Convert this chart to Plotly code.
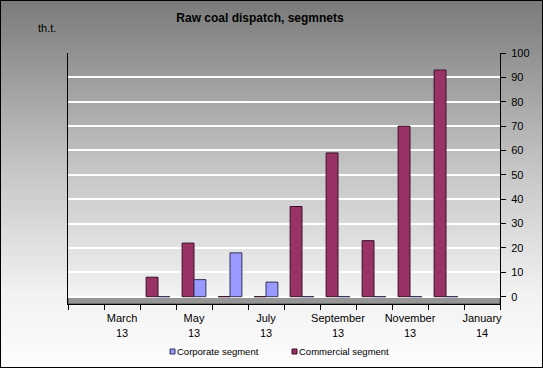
import base64
import plotly.graph_objects as go

# ---- data ----
months = ["Feb 13", "Mar 13", "Apr 13", "May 13", "Jun 13", "Jul 13",
          "Aug 13", "Sep 13", "Oct 13", "Nov 13", "Dec 13", "Jan 14"]
commercial = [None, None, 8, 22, 0, 0, 37, 59, 23, 70, 93, None]
corporate = [None, None, 0, 7, 18, 6, 0, 0, 0, 0, 0, None]
tick_labels = ["March<br>13", "May<br>13", "July<br>13",
               "September<br>13", "November<br>13", "January<br>14"]
tick_positions = [1, 3, 5, 7, 9, 11]
y_ticks = [0, 10, 20, 30, 40, 50, 60, 70, 80, 90, 100]
series_names = ["Corporate segment", "Commercial segment"]
series_colors = ["#9999ff", "#993366"]
series_edges = ["#33335a", "#3a1025"]

W, H = 543, 368
L, R, T, B = 68, 43, 53, 64
pw, ph = W - L - R, H - T - B


def px_x(p):
    return (p - L) / pw


def px_y(p):
    return 1 - (p - T) / ph


svg = f'''<svg xmlns="http://www.w3.org/2000/svg" width="{W}" height="{H}">
<defs><linearGradient id="g" x1="0" y1="0" x2="0" y2="1">
<stop offset="0" stop-color="#7a7a7a"/>
<stop offset="0.45" stop-color="#c4c4c4"/>
<stop offset="0.8" stop-color="#f2f2f2"/>
<stop offset="1" stop-color="#fdfdfd"/>
</linearGradient></defs>
<rect x="0" y="0" width="{W}" height="{H}" fill="url(#g)"/>
<rect x="0.5" y="0.5" width="{W-1}" height="{H-1}" fill="none" stroke="#000" stroke-width="1"/>
</svg>'''
src = "data:image/svg+xml;base64," + base64.b64encode(svg.encode()).decode()

x = list(range(len(months)))
fig = go.Figure()
fig.add_trace(go.Bar(x=x, y=commercial, name=series_names[1],
                     marker=dict(color=series_colors[1], line=dict(color=series_edges[1], width=1))))
fig.add_trace(go.Bar(x=x, y=corporate, name=series_names[0],
                     marker=dict(color=series_colors[0], line=dict(color=series_edges[0], width=1))))

font = "Arial, 'Liberation Sans', sans-serif"

shapes = [dict(type="rect", xref="paper", yref="y", x0=0, x1=1, y0=-3, y1=0,
               fillcolor="#959595", line=dict(color="#444", width=1), layer="below")]
annotations = [dict(text="th.t.", xref="paper", yref="paper", x=px_x(36),
                    y=px_y(28), xanchor="left", yanchor="middle",
                    showarrow=False, font=dict(size=11))]
# legend (small squares + text) as in the original
for name, col, edge, sx in zip(series_names, series_colors, series_edges, [170, 292]):
    shapes.append(dict(type="rect", xref="paper", yref="paper",
                       x0=px_x(sx), x1=px_x(sx + 5), y0=px_y(354), y1=px_y(349),
                       fillcolor=col, line=dict(color=edge, width=1)))
    annotations.append(dict(text=name, xref="paper", yref="paper", x=px_x(sx + 5),
                            y=px_y(351.5), xanchor="left", yanchor="middle",
                            showarrow=False, font=dict(size=9.5)))

fig.update_layout(
    width=W, height=H,
    margin=dict(l=L, r=R, t=T, b=B),
    paper_bgcolor="rgba(0,0,0,0)",
    plot_bgcolor="rgba(0,0,0,0)",
    barmode="group", bargap=0.34, bargroupgap=0.0,
    font=dict(family=font, size=11, color="#000"),
    title=dict(text="<b>Raw coal dispatch, segmnets</b>", x=260 / W, xanchor="center",
               y=1 - 18 / H, yanchor="middle", font=dict(size=12)),
    showlegend=False,
    xaxis=dict(range=[-0.5, 11.5], tickmode="array", tickvals=tick_positions,
               ticktext=tick_labels, ticks="", showgrid=False, zeroline=False,
               showline=True, linecolor="#000", linewidth=1, ticklabelstandoff=4,
               minor=dict(tickmode="array", tickvals=[i - 0.5 for i in range(13)],
                          ticks="outside", ticklen=5, tickcolor="#000", showgrid=False),
               tickfont=dict(size=11)),
    yaxis=dict(range=[-3, 100], side="right", tickmode="array", tickvals=y_ticks,
               ticks="outside", ticklen=5, tickcolor="#000", showline=True,
               linecolor="#000", linewidth=1, mirror=True, ticklabelstandoff=3,
               showgrid=True, gridcolor="#ffffff", gridwidth=1.5, zeroline=False,
               tickfont=dict(size=11)),
    images=[dict(source=src, xref="paper", yref="paper", x=-L / pw, y=1 + T / ph,
                 sizex=W / pw, sizey=H / ph, sizing="stretch", layer="below",
                 xanchor="left", yanchor="top")],
    shapes=shapes,
    annotations=annotations,
)
fig.write_html("out.html", config={"displayModeBar": False},
               post_script="document.body.style.margin='0px';")
